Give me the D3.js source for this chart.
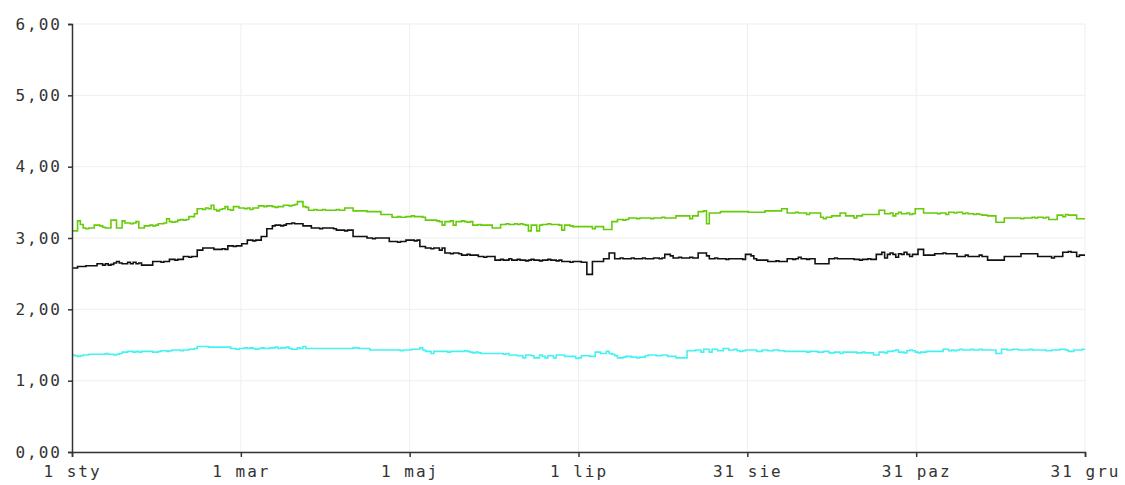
<!DOCTYPE html>
<html><head><meta charset="utf-8">
<script src="https://cdn.jsdelivr.net/npm/d3@7"></script>
<style>
html,body{margin:0;padding:0;background:#fff;}
svg{display:block;}
text{font-family:"DejaVu Sans Mono",monospace;font-size:16px;fill:#333;letter-spacing:2px;}
</style></head><body>
<svg id="chart" width="1125" height="485"></svg>
<script>
const startDate = new Date(2013, 0, 1);
const endDate = new Date(2013, 11, 31);
const xTickLabels = ["1 sty", "1 mar", "1 maj", "1 lip", "31 sie", "31 paz", "31 gru"];
const yTicks = [0, 1, 2, 3, 4, 5, 6];
const seriesNames = ["green", "black", "cyan"];
const seriesColors = ["#66cc0a", "#111111", "#44f2f2"];

const greenValues = [
3.10,3.10,3.24,3.19,3.14,3.13,3.14,3.14,3.18,3.18,
3.17,3.15,3.14,3.14,3.25,3.25,3.14,3.14,3.24,3.21,
3.21,3.20,3.21,3.23,3.14,3.14,3.17,3.17,3.18,3.17,
3.18,3.20,3.20,3.21,3.27,3.23,3.22,3.23,3.25,3.26,
3.25,3.26,3.30,3.30,3.34,3.41,3.41,3.40,3.42,3.41,
3.46,3.40,3.38,3.40,3.41,3.44,3.40,3.39,3.44,3.44,
3.42,3.42,3.41,3.42,3.40,3.42,3.42,3.45,3.45,3.44,
3.45,3.45,3.44,3.43,3.44,3.44,3.46,3.46,3.45,3.46,
3.47,3.51,3.51,3.44,3.43,3.39,3.39,3.40,3.39,3.39,
3.40,3.39,3.39,3.39,3.39,3.40,3.39,3.39,3.42,3.42,
3.42,3.38,3.38,3.38,3.38,3.38,3.37,3.37,3.37,3.37,
3.37,3.33,3.33,3.33,3.33,3.29,3.29,3.30,3.29,3.29,
3.30,3.30,3.31,3.30,3.30,3.30,3.29,3.25,3.25,3.25,
3.25,3.24,3.23,3.18,3.23,3.23,3.24,3.18,3.23,3.23,
3.24,3.23,3.22,3.23,3.18,3.18,3.19,3.18,3.18,3.18,
3.18,3.14,3.14,3.14,3.19,3.19,3.20,3.19,3.19,3.20,
3.19,3.20,3.19,3.18,3.10,3.18,3.18,3.10,3.18,3.19,
3.19,3.20,3.19,3.19,3.19,3.18,3.11,3.18,3.18,3.17,
3.16,3.16,3.16,3.16,3.16,3.16,3.16,3.13,3.16,3.16,
3.16,3.12,3.12,3.12,3.23,3.23,3.26,3.26,3.25,3.26,
3.28,3.28,3.28,3.27,3.28,3.28,3.28,3.28,3.27,3.28,
3.28,3.28,3.29,3.28,3.28,3.28,3.28,3.31,3.31,3.31,
3.31,3.31,3.27,3.31,3.31,3.37,3.37,3.38,3.20,3.35,
3.35,3.35,3.35,3.37,3.37,3.37,3.37,3.37,3.37,3.37,
3.37,3.37,3.37,3.36,3.36,3.36,3.36,3.36,3.36,3.38,
3.38,3.38,3.38,3.38,3.38,3.41,3.41,3.35,3.35,3.35,
3.36,3.35,3.35,3.35,3.33,3.35,3.35,3.35,3.35,3.29,
3.27,3.29,3.29,3.31,3.31,3.31,3.35,3.35,3.31,3.31,
3.31,3.28,3.31,3.31,3.33,3.33,3.33,3.33,3.33,3.33,
3.39,3.39,3.34,3.34,3.35,3.31,3.34,3.36,3.34,3.34,
3.35,3.33,3.34,3.41,3.41,3.41,3.35,3.35,3.35,3.35,
3.35,3.34,3.35,3.35,3.33,3.36,3.36,3.35,3.36,3.36,
3.34,3.35,3.34,3.34,3.33,3.34,3.33,3.32,3.32,3.31,
3.31,3.31,3.22,3.22,3.22,3.28,3.28,3.28,3.28,3.28,
3.28,3.27,3.28,3.28,3.28,3.29,3.28,3.29,3.29,3.28,
3.29,3.26,3.26,3.26,3.32,3.32,3.30,3.33,3.32,3.32,
3.32,3.27,3.27,3.27,3.27];

const blackValues = [
2.58,2.58,2.60,2.60,2.60,2.61,2.61,2.61,2.61,2.64,
2.64,2.62,2.64,2.62,2.63,2.65,2.67,2.65,2.64,2.64,
2.66,2.64,2.66,2.64,2.65,2.62,2.62,2.62,2.62,2.67,
2.67,2.67,2.66,2.67,2.67,2.70,2.70,2.69,2.70,2.70,
2.74,2.74,2.73,2.74,2.74,2.83,2.83,2.86,2.86,2.86,
2.86,2.84,2.84,2.84,2.85,2.84,2.89,2.89,2.88,2.89,
2.89,2.92,2.92,2.97,2.97,2.96,2.97,2.97,3.02,3.02,
3.13,3.13,3.17,3.18,3.18,3.17,3.18,3.20,3.20,3.21,
3.20,3.20,3.20,3.17,3.17,3.17,3.14,3.14,3.14,3.13,
3.14,3.14,3.14,3.14,3.13,3.11,3.11,3.11,3.10,3.11,
3.11,3.02,3.02,3.02,3.02,3.02,3.00,3.00,2.99,3.00,
3.00,3.00,3.00,3.00,2.95,2.95,2.95,2.94,2.95,2.95,
2.97,2.97,2.97,2.96,2.97,2.88,2.88,2.86,2.86,2.85,
2.86,2.86,2.83,2.86,2.79,2.79,2.78,2.79,2.79,2.78,
2.76,2.76,2.77,2.76,2.76,2.76,2.74,2.74,2.73,2.74,
2.74,2.74,2.69,2.69,2.70,2.69,2.69,2.71,2.69,2.69,
2.70,2.69,2.69,2.68,2.69,2.70,2.69,2.69,2.68,2.69,
2.69,2.70,2.69,2.69,2.68,2.69,2.67,2.67,2.67,2.66,
2.67,2.67,2.67,2.66,2.66,2.49,2.49,2.67,2.67,2.67,
2.67,2.71,2.71,2.79,2.79,2.71,2.71,2.72,2.71,2.71,
2.71,2.72,2.71,2.71,2.71,2.72,2.71,2.71,2.71,2.72,
2.72,2.71,2.72,2.77,2.77,2.75,2.72,2.72,2.73,2.72,
2.72,2.72,2.73,2.72,2.72,2.79,2.79,2.79,2.75,2.71,
2.71,2.72,2.71,2.71,2.71,2.70,2.71,2.71,2.71,2.71,
2.71,2.70,2.77,2.77,2.75,2.71,2.69,2.69,2.69,2.69,
2.67,2.67,2.67,2.68,2.67,2.67,2.67,2.71,2.71,2.70,
2.71,2.73,2.71,2.71,2.70,2.71,2.71,2.64,2.64,2.64,
2.64,2.64,2.71,2.71,2.72,2.71,2.71,2.71,2.71,2.71,
2.71,2.70,2.70,2.69,2.70,2.70,2.71,2.70,2.70,2.77,
2.77,2.80,2.72,2.77,2.79,2.77,2.73,2.78,2.77,2.80,
2.77,2.74,2.77,2.77,2.84,2.84,2.76,2.76,2.76,2.76,
2.78,2.78,2.78,2.79,2.78,2.78,2.78,2.78,2.74,2.74,
2.74,2.76,2.74,2.74,2.74,2.74,2.76,2.74,2.74,2.69,
2.69,2.69,2.69,2.69,2.69,2.74,2.74,2.74,2.74,2.74,
2.74,2.78,2.78,2.78,2.78,2.78,2.78,2.74,2.74,2.74,
2.74,2.74,2.72,2.74,2.74,2.74,2.80,2.80,2.81,2.80,
2.80,2.74,2.76,2.76,2.76];

const cyanValues = [
1.36,1.35,1.34,1.35,1.36,1.36,1.37,1.37,1.37,1.37,
1.37,1.37,1.38,1.37,1.37,1.36,1.37,1.38,1.40,1.40,
1.41,1.41,1.40,1.41,1.40,1.41,1.41,1.41,1.41,1.40,
1.40,1.41,1.42,1.42,1.41,1.42,1.43,1.43,1.43,1.42,
1.43,1.43,1.44,1.44,1.45,1.48,1.48,1.48,1.48,1.47,
1.47,1.47,1.47,1.47,1.47,1.47,1.47,1.45,1.45,1.44,
1.45,1.45,1.46,1.45,1.46,1.45,1.44,1.45,1.46,1.45,
1.45,1.46,1.46,1.47,1.45,1.46,1.46,1.47,1.45,1.44,
1.44,1.46,1.45,1.48,1.45,1.45,1.45,1.45,1.45,1.45,
1.45,1.45,1.45,1.45,1.45,1.45,1.45,1.45,1.45,1.45,
1.45,1.46,1.46,1.45,1.45,1.45,1.45,1.43,1.43,1.43,
1.43,1.43,1.43,1.43,1.43,1.43,1.43,1.43,1.42,1.43,
1.43,1.43,1.44,1.44,1.44,1.46,1.43,1.41,1.41,1.38,
1.41,1.41,1.41,1.41,1.41,1.40,1.41,1.41,1.41,1.41,
1.41,1.42,1.41,1.40,1.39,1.40,1.39,1.38,1.38,1.38,
1.38,1.38,1.38,1.38,1.38,1.37,1.38,1.36,1.36,1.36,
1.35,1.35,1.32,1.36,1.36,1.35,1.32,1.32,1.36,1.34,
1.32,1.35,1.35,1.32,1.36,1.36,1.36,1.34,1.34,1.34,
1.34,1.31,1.32,1.35,1.35,1.35,1.34,1.34,1.40,1.40,
1.38,1.38,1.41,1.38,1.37,1.35,1.32,1.32,1.33,1.34,
1.34,1.33,1.33,1.32,1.33,1.33,1.35,1.36,1.36,1.36,
1.35,1.35,1.36,1.36,1.34,1.34,1.34,1.32,1.32,1.32,
1.32,1.42,1.42,1.42,1.43,1.43,1.40,1.44,1.44,1.40,
1.44,1.44,1.42,1.42,1.45,1.45,1.43,1.43,1.44,1.42,
1.41,1.42,1.43,1.43,1.43,1.43,1.41,1.41,1.43,1.43,
1.42,1.42,1.43,1.43,1.42,1.42,1.41,1.41,1.41,1.41,
1.41,1.41,1.41,1.41,1.40,1.41,1.41,1.41,1.40,1.40,
1.41,1.41,1.39,1.39,1.40,1.40,1.38,1.40,1.40,1.40,
1.40,1.40,1.39,1.39,1.40,1.39,1.39,1.39,1.36,1.36,
1.40,1.40,1.39,1.41,1.41,1.42,1.43,1.40,1.40,1.39,
1.42,1.43,1.42,1.40,1.39,1.40,1.40,1.41,1.41,1.41,
1.41,1.41,1.41,1.44,1.44,1.42,1.43,1.42,1.43,1.44,
1.43,1.43,1.43,1.44,1.43,1.43,1.44,1.43,1.43,1.43,
1.43,1.43,1.38,1.38,1.44,1.44,1.43,1.43,1.44,1.44,
1.43,1.43,1.43,1.43,1.44,1.43,1.43,1.43,1.43,1.43,
1.42,1.42,1.43,1.43,1.43,1.44,1.44,1.43,1.41,1.41,
1.43,1.43,1.43,1.44,1.44];

const seriesValues = [greenValues, blackValues, cyanValues];

const svg = d3.select("#chart");
const margin = {left: 72, right: 40, top: 24, bottom: 33};
const W = 1125, H = 485;

const x = d3.scaleTime().domain([startDate, endDate]).range([margin.left, W - margin.right]);
const y = d3.scaleLinear().domain([0, 6]).range([H - margin.bottom, margin.top]);

const locale = d3.formatLocale({decimal: ",", thousands: " ", grouping: [3], currency: ["", " zł"]});
const yFmt = locale.format(".2f");

const span = endDate - startDate;
const xTickValues = xTickLabels.map((_, i) => new Date(+startDate + span * i / (xTickLabels.length - 1)));

// grid
const grid = svg.append("g");
grid.selectAll("line.h").data(yTicks).join("line")
  .attr("x1", x.range()[0]).attr("x2", x.range()[1])
  .attr("y1", d => y(d)).attr("y2", d => y(d))
  .attr("stroke", "#efefef").attr("stroke-width", 1);
grid.selectAll("line.v").data(xTickValues.slice(1)).join("line")
  .attr("x1", d => x(d)).attr("x2", d => x(d))
  .attr("y1", y(0)).attr("y2", y(6))
  .attr("stroke", "#efefef").attr("stroke-width", 1);

// lines
const day = d3.timeDay;
const line = d3.line().curve(d3.curveStepAfter);
seriesValues.forEach((vals, si) => {
  const pts = vals.map((v, i) => [x(day.offset(startDate, i)), y(v)]);
  svg.append("path").attr("d", line(pts))
    .attr("fill", "none").attr("stroke", seriesColors[si]).attr("stroke-width", 1.6);
});

// axes
const xAxis = d3.axisBottom(x).tickValues(xTickValues).tickSize(5).tickPadding(6)
  .tickFormat((d, i) => xTickLabels[i]);
const gx = svg.append("g").attr("transform", `translate(0,${y(0)})`).call(xAxis);
gx.select(".domain").attr("stroke", "#333").attr("stroke-width", 1.5);
gx.selectAll(".tick line").attr("stroke", "#333").attr("stroke-width", 1.5);
gx.selectAll("text").attr("font-family", null).attr("font-size", null).attr("fill", null).attr("dy", "0.9em");

const yAxis = d3.axisLeft(y).tickValues(yTicks).tickSize(4).tickPadding(6).tickFormat(yFmt);
const gy = svg.append("g").attr("transform", `translate(${x.range()[0]},0)`).call(yAxis);
gy.select(".domain").attr("stroke", "#333").attr("stroke-width", 1.5);
gy.selectAll(".tick line").attr("stroke", "#333").attr("stroke-width", 1.5);
gy.selectAll("text").attr("font-family", null).attr("font-size", null).attr("fill", null);
</script>
</body></html>
